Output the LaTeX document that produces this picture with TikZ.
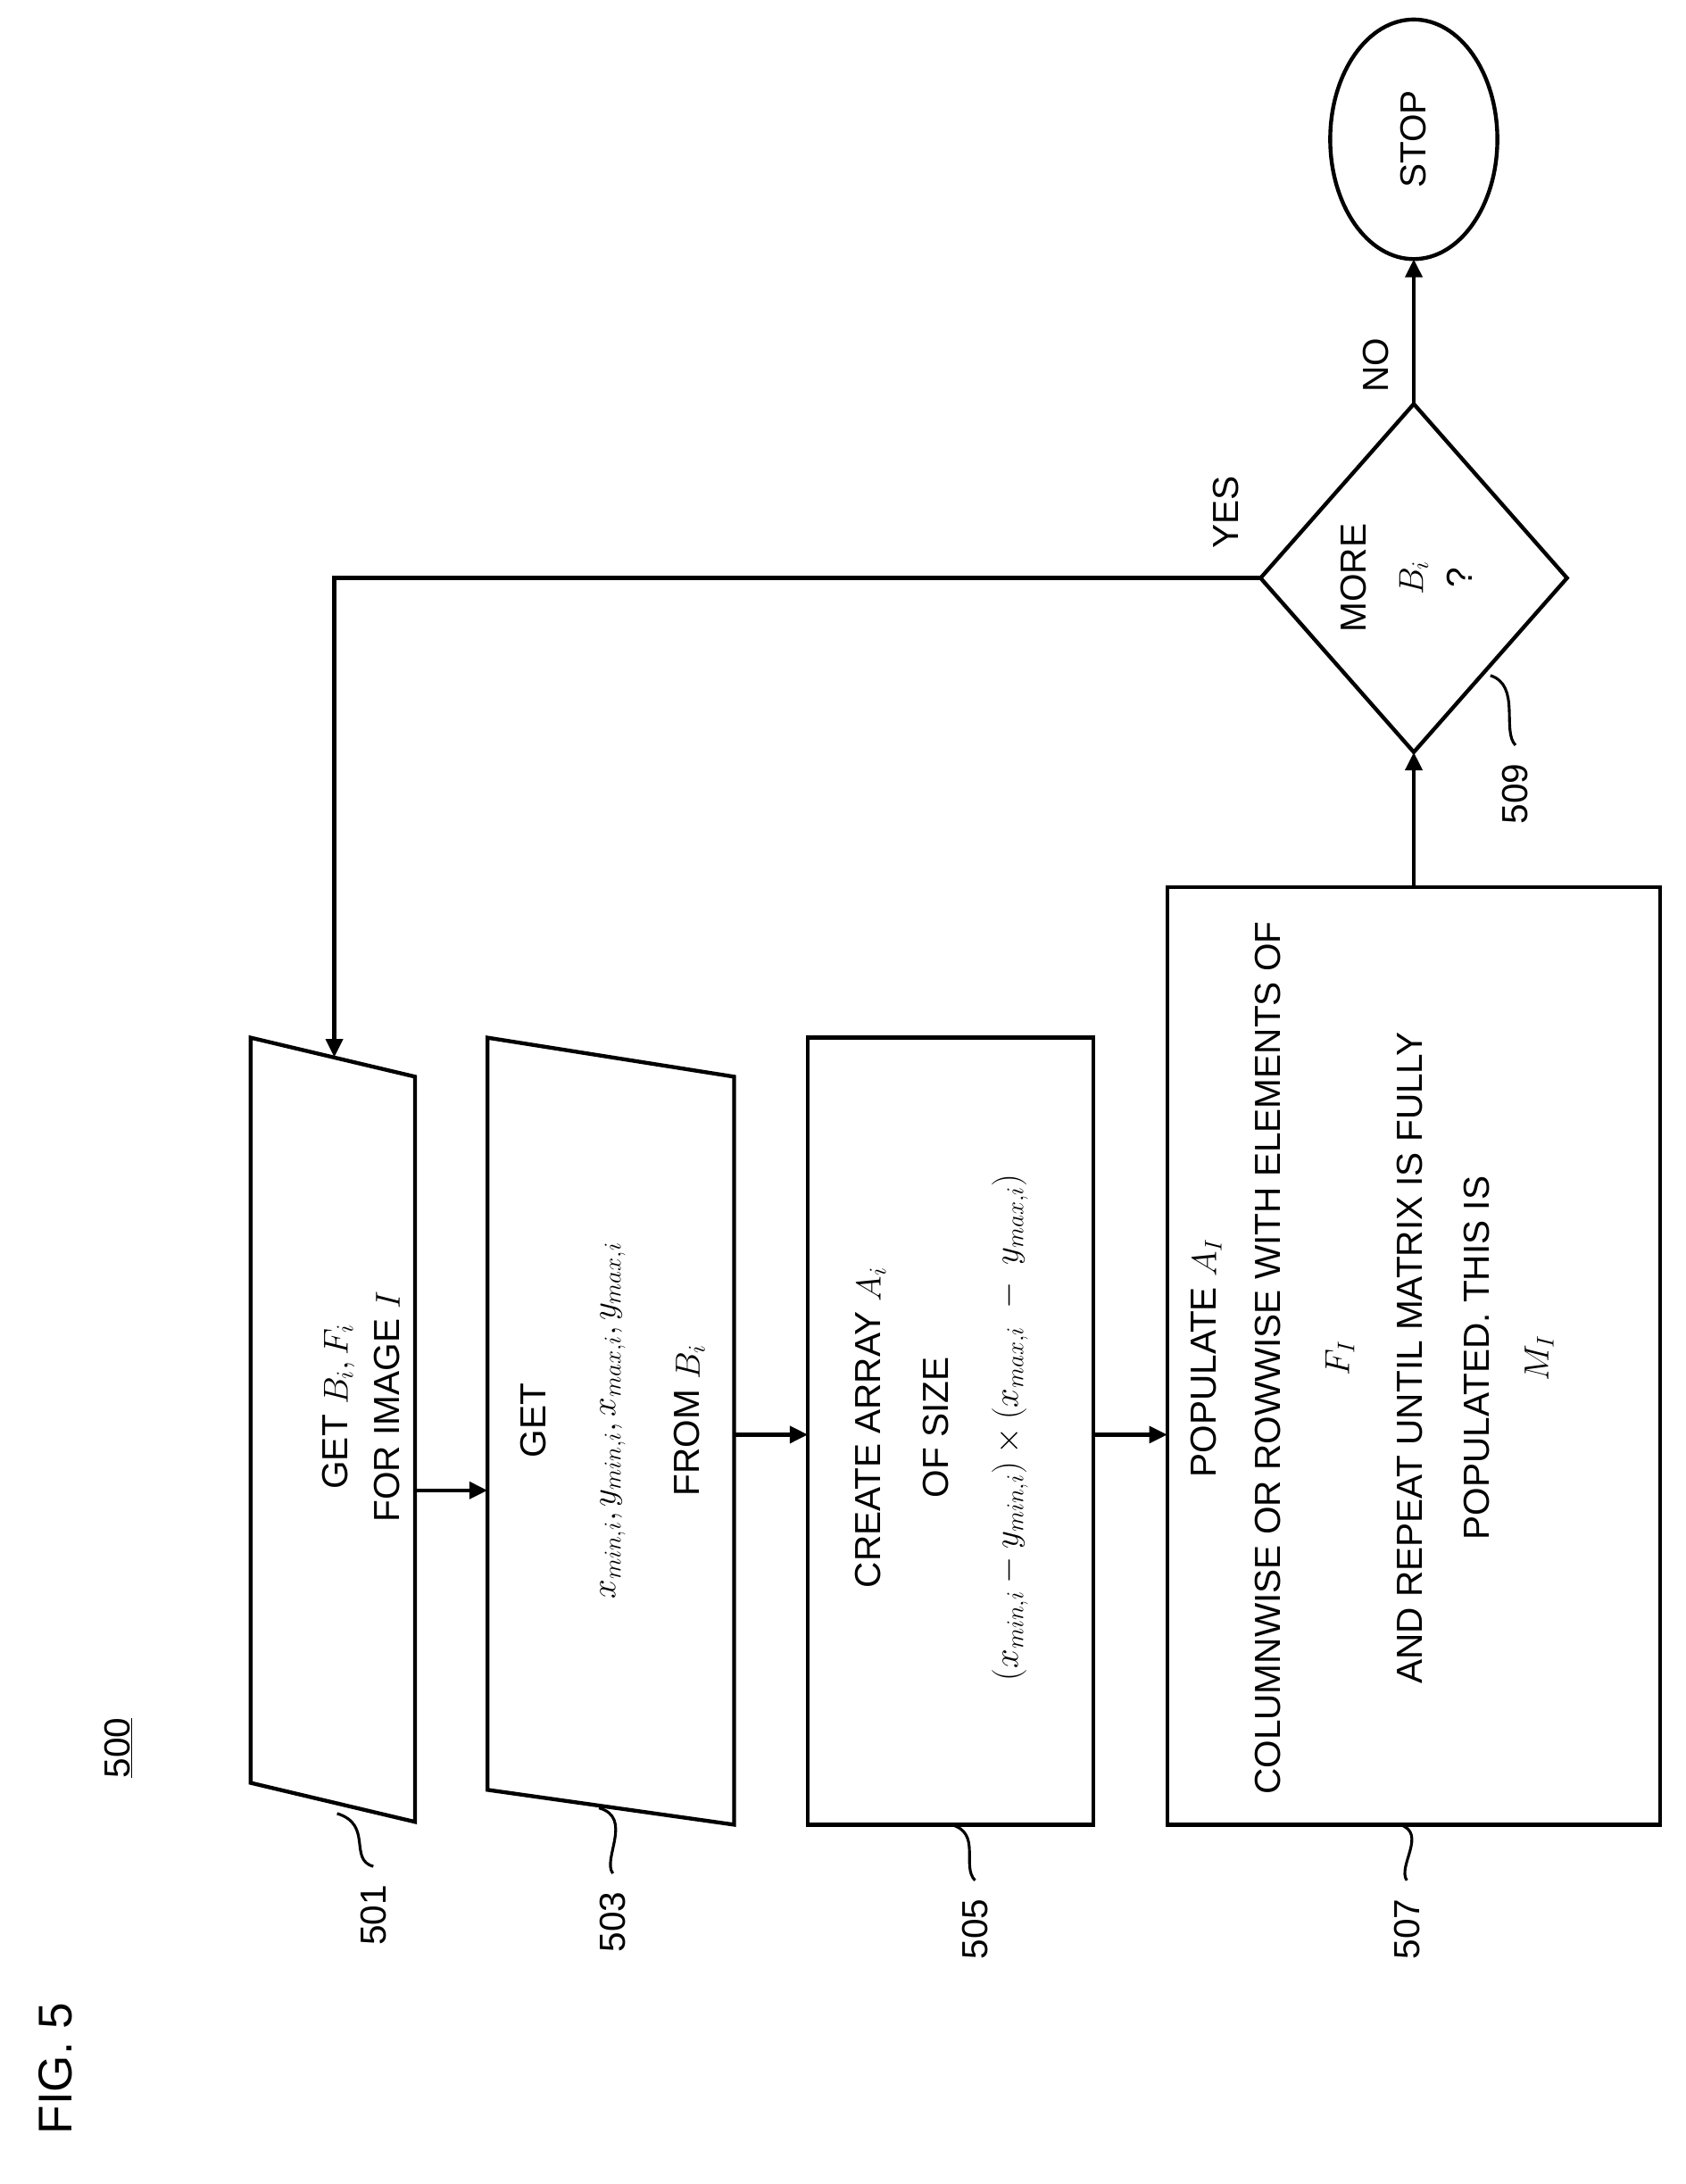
\documentclass[tikz,border=0pt]{standalone}
\usepackage{fontspec}
\setmainfont{Liberation Sans}
\usetikzlibrary{arrows.meta,shapes.geometric}
\begin{document}
\begin{tikzpicture}[x=1pt,y=-1pt,line width=2.8pt,
  txt/.style={rotate=90,font=\fontsize{26}{30}\selectfont,inner sep=0},
  arr/.style={-{Triangle[length=13pt,width=12pt]}},
  lead/.style={line width=2pt}]
\useasboundingbox (0,0) rectangle (1210,1568);
% shapes
\draw (180,745) -- (298,773) -- (298,1308) -- (180,1280) -- cycle;
\coordinate (p1top) at (240,759);
\draw (350,745) -- (527,773) -- (527,1310) -- (350,1285) -- cycle;
\draw (580,745) rectangle (785,1310);
\draw (838,637) rectangle (1192,1310);
\draw (1015,290) coordinate (dt) -- (1125,415) -- (1015,540) coordinate (db) -- (905,415) coordinate (dl) -- cycle;
\draw (1015,100) ellipse [x radius=60, y radius=86];
\node[txt] at (1015,100) {STOP};
\coordinate (eb) at (1015,186);
% texts
\node[txt] at (243,1010) {GET $B_i, F_i$};
\node[txt] at (278,1010) {FOR IMAGE $I$};
\node[txt] at (383,1020) {GET};
\node[txt] at (440,1020) {$x_{min,i}, y_{min,i}, x_{max,i}, y_{max,i}$};
\node[txt] at (495,1020) {FROM $B_i$};
\node[txt] at (625,1025) {CREATE ARRAY $A_i$};
\node[txt] at (672,1025) {OF SIZE};
\node[txt] at (725,1025) {$(x_{min,i}-y_{min,i})\times(x_{max,i}\;-\;y_{max,i})$};
\node[txt] at (866,975) {POPULATE $A_I$};
\node[txt] at (910,975) {COLUMNWISE OR ROWWISE WITH ELEMENTS OF};
\node[txt] at (962,975) {$F_I$};
\node[txt] at (1012,975) {AND REPEAT UNTIL MATRIX IS FULLY};
\node[txt] at (1060,975) {POPULATED. THIS IS};
\node[txt] at (1105,975) {$M_I$};
\node[txt] at (972,415) {MORE};
\node[txt] at (1015,415) {$B_i$};
\node[txt] at (1048,415) {?};
% connectors
\draw[arr] (298,1070) -- (350,1070);
\draw[arr] (527,1030) -- (580,1030);
\draw[arr] (785,1030) -- (838,1030);
\draw[arr] (1015,637) -- (db);
\draw[arr] (dt) -- (eb);
\draw[arr] (dl) -- (240,415) -- (p1top);
\node[txt] at (988,262) {NO};
\node[txt] at (880,368) {YES};
% labels
\node[txt] at (85,1255) {\underline{500}};
\node[txt,font=\fontsize{34}{40}\selectfont] at (40,1485) {FIG. 5};
\node[txt] (n501) at (268,1375) {501};
\node[txt] (n503) at (440,1380) {503};
\node[txt] (n505) at (700,1385) {505};
\node[txt] (n507) at (1010,1385) {507};
\node[txt] (n509) at (1088,570) {509};
\draw[lead] (242,1302) .. controls (268,1310) and (250,1335) .. (268,1340);
\draw[lead] (430,1298) .. controls (455,1305) and (432,1335) .. (440,1345);
\draw[lead] (683,1310) .. controls (705,1316) and (690,1340) .. (700,1350);
\draw[lead] (1005,1310) .. controls (1025,1316) and (1003,1340) .. (1010,1350);
\draw[lead] (1070,485) .. controls (1092,492) and (1078,525) .. (1088,535);
\end{tikzpicture}
\end{document}
